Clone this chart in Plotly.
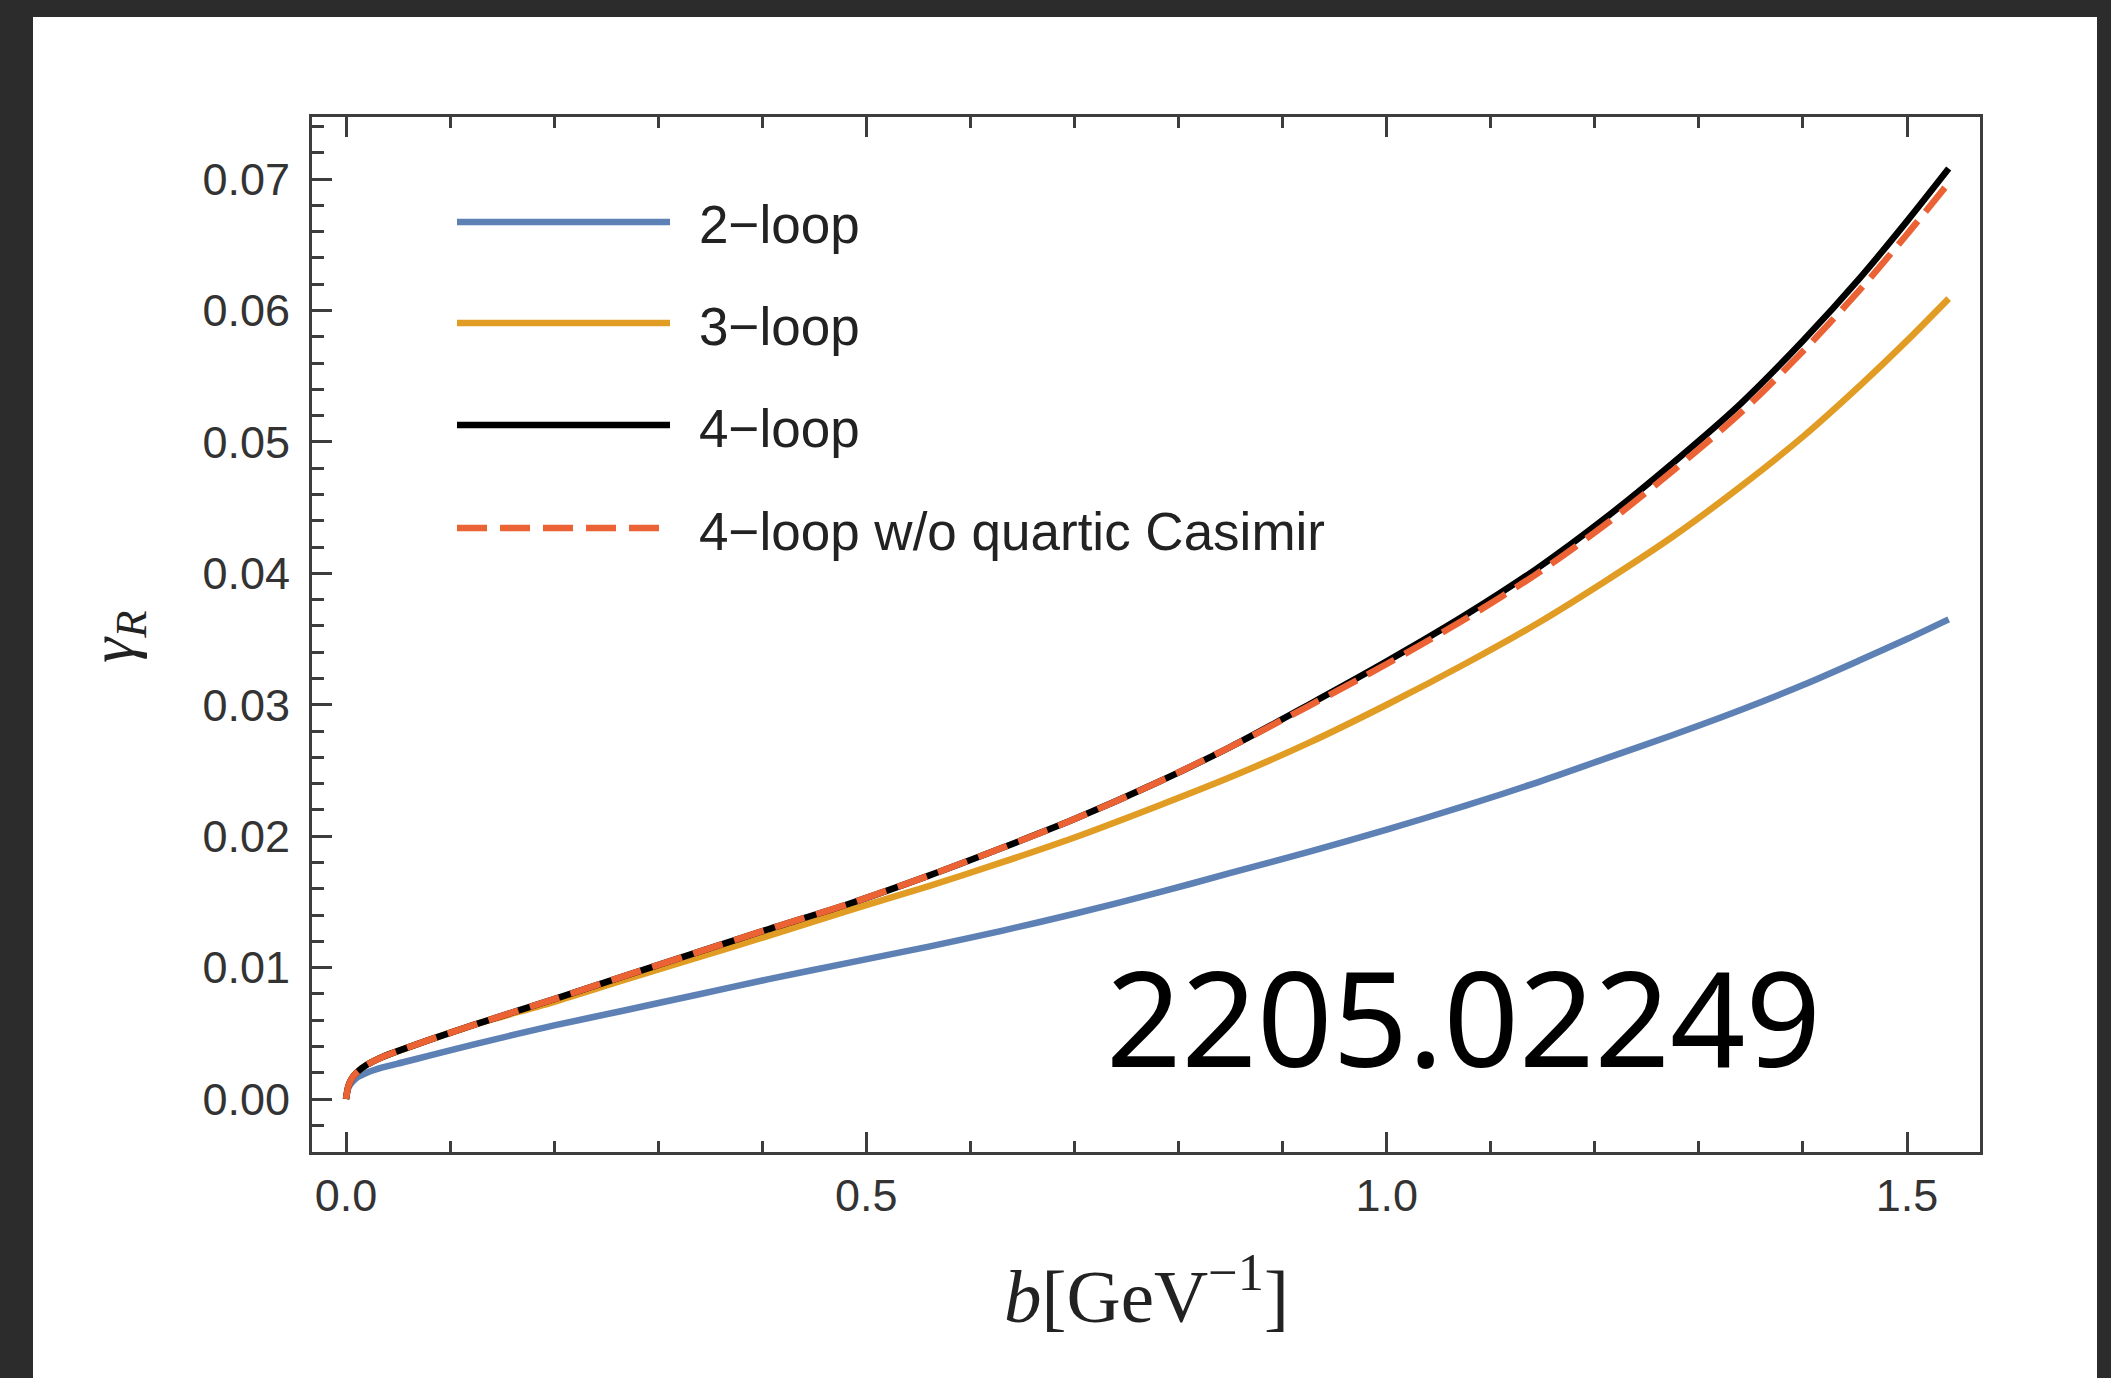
import plotly.graph_objects as go

# b values [GeV^-1] and gamma_R for each perturbative order
b_vals = [0.0, 0.002, 0.005, 0.01, 0.02, 0.035, 0.055, 0.08, 0.125, 0.2, 0.265, 0.335,
          0.405, 0.485, 0.56, 0.63, 0.7, 0.78, 0.85, 0.925, 1.0, 1.075, 1.145, 1.21,
          1.275, 1.34, 1.4, 1.455, 1.5, 1.54]

gamma_2loop = [0.0, 0.0008, 0.0012, 0.0016, 0.0020, 0.0024, 0.0028, 0.0033, 0.0042, 0.0056,
               0.0067, 0.0079, 0.0091, 0.0104, 0.0116, 0.0128, 0.0141, 0.0157, 0.0172, 0.0188,
               0.0205, 0.0223, 0.0241, 0.0259, 0.0277, 0.0296, 0.0315, 0.0334, 0.0350, 0.0365]

gamma_3loop = [0.0, 0.0009, 0.0015, 0.0020, 0.0026, 0.0032, 0.0038, 0.0045, 0.0057, 0.0074,
               0.0090, 0.0107, 0.0124, 0.0144, 0.0162, 0.0180, 0.0199, 0.0223, 0.0245, 0.0271,
               0.0300, 0.0331, 0.0362, 0.0394, 0.0428, 0.0466, 0.0504, 0.0543, 0.0577, 0.0609]

gamma_4loop = [0.0, 0.0009, 0.0015, 0.0020, 0.0026, 0.0032, 0.0038, 0.0045, 0.0057, 0.0076,
               0.0093, 0.0111, 0.0129, 0.0149, 0.0170, 0.0191, 0.0213, 0.0241, 0.0268, 0.0300,
               0.0333, 0.0368, 0.0404, 0.0442, 0.0484, 0.0529, 0.0577, 0.0625, 0.0668, 0.0708]

gamma_4loop_noq = [0.0, 0.0009, 0.0015, 0.0020, 0.0026, 0.0032, 0.0038, 0.0045, 0.0057, 0.0076,
                   0.0093, 0.0111, 0.0129, 0.0149, 0.0170, 0.0191, 0.0213, 0.0241, 0.0268, 0.0299,
                   0.0331, 0.0365, 0.0400, 0.0437, 0.0478, 0.0522, 0.0569, 0.0616, 0.0658, 0.0697]

series_names = ["2\u2212loop", "3\u2212loop", "4\u2212loop", "4\u2212loop w/o quartic Casimir"]
series_colors = ["#5E81B5", "#E19C24", "#000000", "#EB6235"]
series_dash = ["solid", "solid", "solid", "31px,12px"]
series_data = [gamma_2loop, gamma_3loop, gamma_4loop, gamma_4loop_noq]

x_ticks = [0.0, 0.5, 1.0, 1.5]
y_ticks = [0.00, 0.01, 0.02, 0.03, 0.04, 0.05, 0.06, 0.07]

W, H = 2111, 1378
ML, MR, MT, MB = 312, 131, 117, 226
PW, PH = W - ML - MR, H - MT - MB


def px(x):
    return (x - ML) / PW


def py(y):
    return (H - MB - y) / PH


AX = "#3d3d3d"
X_RANGE = [-0.0327, 1.5701]
Y_RANGE = [-0.00403, 0.07472]

fig = go.Figure()
for name, ys, col, dash in zip(series_names, series_data, series_colors, series_dash):
    fig.add_trace(go.Scatter(
        x=b_vals, y=ys, mode="lines", name=name, showlegend=False,
        line=dict(color=col, width=6.5, dash=dash, shape="spline", smoothing=0.8),
    ))

shapes = [
    # white slide panel behind the figure
    dict(type="rect", xref="paper", yref="paper", x0=px(33), x1=px(2097), y0=py(1400), y1=py(17),
         fillcolor="white", line=dict(width=0), layer="below"),
]

annotations = []
legend_rows = [222, 323, 425, 528]
for name, col, dash, row in zip(series_names, series_colors, series_dash, legend_rows):
    x_end = 670 if dash == "solid" else 660
    shapes.append(dict(type="line", xref="paper", yref="paper", x0=px(457), x1=px(x_end),
                       y0=py(row), y1=py(row),
                       line=dict(color=col, width=6.5, dash="solid" if dash == "solid" else "30px,13px")))
    annotations.append(dict(xref="paper", yref="paper", x=px(697), y=py(row + 3), text=name,
                            showarrow=False, xanchor="left", yanchor="middle",
                            font=dict(family="Liberation Sans", size=53, color="#222222")))

annotations.append(dict(xref="paper", yref="paper", x=px(1463), y=py(1016), text="2205.02249",
                        showarrow=False, xanchor="center", yanchor="middle",
                        font=dict(family="Noto Sans", size=132, color="black")))

annotations.append(dict(xref="paper", yref="paper", x=px(1146), y=py(1290),
                        text="<i>b</i>[GeV<sup>\u22121</sup>]",
                        showarrow=False, xanchor="center", yanchor="middle",
                        font=dict(family="Liberation Serif", size=75, color="#222222")))

annotations.append(dict(xref="paper", yref="paper", x=px(116), y=py(637),
                        text="<i>\u03b3</i><sub><i>R</i></sub>", textangle=-90,
                        showarrow=False, xanchor="center", yanchor="middle",
                        font=dict(family="Liberation Serif", size=64, color="#222222")))

tick_font = dict(family="Liberation Sans", size=45, color="#333333")

fig.update_layout(
    width=W, height=H,
    margin=dict(l=ML, r=MR, t=MT, b=MB, pad=0),
    paper_bgcolor="#2c2c2c",
    plot_bgcolor="white",
    showlegend=False,
    shapes=shapes,
    annotations=annotations,
    xaxis=dict(
        range=X_RANGE, tickvals=x_ticks, ticktext=[f"{v:.1f}" for v in x_ticks],
        ticks="inside", ticklen=20, tickwidth=2.5, tickcolor=AX,
        showline=True, linewidth=3, linecolor=AX, mirror="allticks",
        showgrid=False, zeroline=False, tickfont=tick_font, ticklabelstandoff=2,
        minor=dict(dtick=0.1, tick0=0, ticks="inside", ticklen=11, tickwidth=2.5,
                   tickcolor=AX, showgrid=False),
    ),
    yaxis=dict(
        range=Y_RANGE, tickvals=y_ticks, ticktext=[f"{v:.2f}" for v in y_ticks],
        ticks="inside", ticklen=20, tickwidth=2.5, tickcolor=AX,
        showline=True, linewidth=3, linecolor=AX, mirror=True,
        showgrid=False, zeroline=False, tickfont=tick_font, ticklabelstandoff=10,
        minor=dict(dtick=0.002, tick0=0, ticks="inside", ticklen=12, tickwidth=2.5,
                   tickcolor=AX, showgrid=False),
    ),
    yaxis2=dict(
        range=Y_RANGE, overlaying="y", side="right", anchor="x",
        dtick=0.005, tick0=0, ticks="inside", ticklen=15, tickwidth=2.5, tickcolor=AX,
        showticklabels=False, showline=False, showgrid=False, zeroline=False,
    ),
)

fig.write_html("out.html")
